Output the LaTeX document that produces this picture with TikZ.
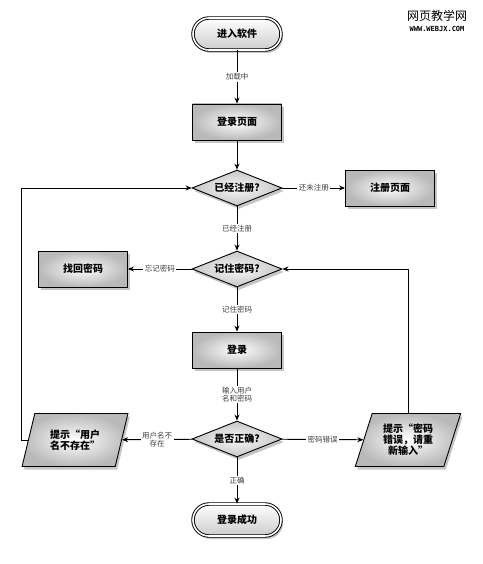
\documentclass[tikz,border=0pt]{standalone}
\usepackage{fontspec}
\setmainfont{Noto Sans CJK SC}
\newfontfamily\wmmono{DejaVu Sans Mono}
\usetikzlibrary{shapes.geometric,shadows,arrows.meta}
\begin{document}
\begin{tikzpicture}[x=1pt,y=-1pt,
  base/.style={font=\bfseries\fontsize{10}{12}\selectfont, line width=0.9pt, draw=black, align=center,
    drop shadow={opacity=0.45, shadow xshift=2pt, shadow yshift=-3pt}},
  terminal/.style={base, rounded corners=16pt, minimum width=88pt, minimum height=32pt,
    double, double distance=1.6pt, top color=white, bottom color=gray!40},
  proc/.style={base, rectangle, minimum width=89pt, minimum height=36pt, inner color=white, outer color=gray!55},
  decision/.style={base, diamond, aspect=2.5, minimum width=90pt, minimum height=36pt, inner sep=0pt,
    inner color=gray!5, outer color=gray!45},
  io/.style={base, trapezium, trapezium left angle=70, trapezium right angle=110, trapezium stretches=true,
    minimum width=106pt, minimum height=53pt, inner sep=1pt, inner color=white, outer color=gray!55,
    font=\bfseries\fontsize{10}{11}\selectfont},
  lbl/.style={font=\fontsize{7.5}{8}\selectfont, text=black!75, fill=white, inner sep=1.5pt, align=center},
  arr/.style={line width=0.9pt, -{Stealth[length=6pt,width=5pt]}}
]
\useasboundingbox (0,0) rectangle (482,564);
\node[terminal] (start) at (237,34) {进入软件};
\node[proc] (login) at (237,122) {登录页面};
\node[decision] (reg) at (237,188) {已经注册?};
\node[proc] (regpage) at (390,188) {注册页面};
\node[decision] (rem) at (237,269) {记住密码?};
\node[proc] (find) at (83,269) {找回密码};
\node[proc] (dologin) at (237,350) {登录};
\node[decision] (ok) at (237,439) {是否正确?};
\node[io] (nouser) at (75,440) {提示“用户\\名不存在”};
\node[io] (badpw) at (408,440) {提示“密码\\错误，请重\\新输入”};
\node[terminal] (done) at (237,520) {登录成功};

\node[font=\fontsize{12}{13}\selectfont] (wm1) at (437,16) {网页教学网};
\node[font=\wmmono\bfseries\fontsize{7}{8}\selectfont] (wm2) at (437,29) {WWW.WEBJX.COM};

\draw[arr] (start) -- node[lbl]{加载中} (login);
\draw[arr] (login) -- (reg);
\draw[arr] (reg) -- node[lbl]{还未注册} (regpage);
\draw[arr] (reg) -- node[lbl]{已经注册} (rem);
\draw[arr] (rem) -- node[lbl]{忘记密码} (find);
\draw[arr] (rem) -- node[lbl]{记住密码} (dologin);
\draw[arr] (dologin) -- node[lbl]{输入用户\\名和密码} (ok);
\draw[arr] (ok) -- node[lbl]{用户名不\\存在} (nouser);
\draw[arr] (ok) -- node[lbl]{密码错误} (badpw);
\draw[arr] (ok) -- node[lbl]{正确} (done);
\draw[arr] (nouser.west) -- ++(-7,0) |- (reg.west);
\draw[arr] (badpw.north -| badpw.center) |- (rem.east);
\end{tikzpicture}
\end{document}
